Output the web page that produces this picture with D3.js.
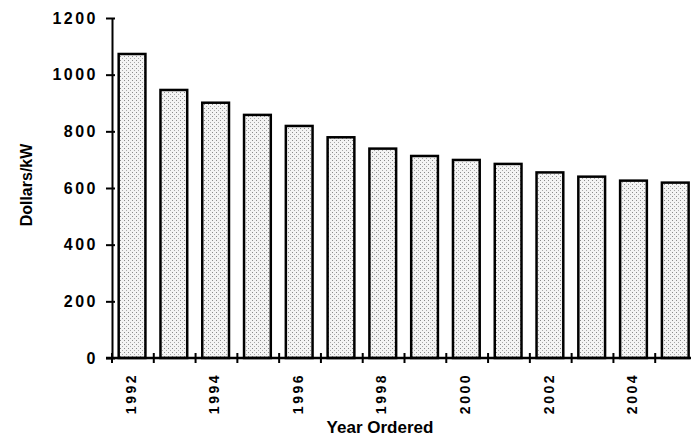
<!DOCTYPE html>
<html>
<head>
<meta charset="utf-8">
<script src="https://cdn.jsdelivr.net/npm/d3@7"></script>
<style>
    body { margin: 0; background: #fff; }
    svg { display: block; font-family: "Liberation Sans", Arial, sans-serif; }
</style>
</head>
<body>
<svg id="my-svg"></svg>
<script>
const years = [1992, 1993, 1994, 1995, 1996, 1997, 1998, 1999, 2000, 2001, 2002, 2003, 2004, 2005];
const costs = [1073, 946, 901, 858, 819, 779, 739, 713, 699, 685, 655, 640, 626, 619];
const yTicks = [0, 200, 400, 600, 800, 1000, 1200];
const xLabels = [1992, 1994, 1996, 1998, 2000, 2002, 2004];

const width = 691;
const height = 439;
const margin = { top: 18, left: 112, bottom: 81 };
const plotRight = 697;
const baseY = height - margin.bottom;

const svg = d3.select("#my-svg")
    .attr("width", width)
    .attr("height", height);

// stipple fill like the scanned bars
const defs = svg.append("defs");
const pat = defs.append("pattern")
    .attr("id", "stipple")
    .attr("patternUnits", "userSpaceOnUse")
    .attr("width", 4)
    .attr("height", 4);
pat.append("rect").attr("width", 4).attr("height", 4).attr("fill", "#f4f4f4");
pat.append("rect").attr("x", 0).attr("y", 0).attr("width", 1).attr("height", 1).attr("fill", "#8a8a8a");
pat.append("rect").attr("x", 2).attr("y", 2).attr("width", 1).attr("height", 1).attr("fill", "#a8a8a8");

const x = d3.scaleBand()
    .domain(years)
    .range([margin.left, plotRight])
    .padding(0);

const y = d3.scaleLinear()
    .domain([0, 1200])
    .range([baseY, margin.top]);

const bw = x.bandwidth();

svg.append("g")
    .selectAll("rect")
    .data(years)
    .enter().append("rect")
    .attr("x", (d) => x(d) + bw * 0.16)
    .attr("y", (d, i) => y(costs[i]))
    .attr("width", bw * 0.64)
    .attr("height", (d, i) => baseY - y(costs[i]))
    .attr("fill", "url(#stipple)")
    .attr("stroke", "#000")
    .attr("stroke-width", 2.5);

// y axis
const yAxis = svg.append("g")
    .attr("transform", `translate(${margin.left},0)`)
    .call(d3.axisLeft(y).tickValues(yTicks).tickSize(0).tickPadding(14).tickFormat(d3.format("d")));
yAxis.select(".domain")
    .attr("stroke", "#000")
    .attr("stroke-width", 2);
yAxis.selectAll(".tick line")
    .attr("x1", -6)
    .attr("x2", 3)
    .attr("stroke", "#000")
    .attr("stroke-width", 2);
yAxis.selectAll(".tick text")
    .attr("fill", "#000")
    .style("font-size", "16px")
    .style("font-weight", "bold")
    .style("letter-spacing", "2.5px");

// x axis, ticks at band edges
const xg = svg.append("g");
xg.append("line")
    .attr("x1", margin.left - 6)
    .attr("x2", width)
    .attr("y1", baseY)
    .attr("y2", baseY)
    .attr("stroke", "#000")
    .attr("stroke-width", 2.5);
xg.selectAll(".xtick")
    .data(years)
    .enter().append("line")
    .attr("class", "xtick")
    .attr("x1", (d) => x(d))
    .attr("x2", (d) => x(d))
    .attr("y1", baseY - 5)
    .attr("y2", baseY + 5)
    .attr("stroke", "#000")
    .attr("stroke-width", 2);

xg.selectAll(".xlabel")
    .data(xLabels)
    .enter().append("text")
    .attr("class", "xlabel")
    .attr("transform", (d) => `translate(${x(d) + bw * 0.45},${baseY + 15}) rotate(-90)`)
    .attr("text-anchor", "end")
    .attr("dy", "0.35em")
    .style("font-size", "14px")
    .style("font-weight", "bold")
    .style("letter-spacing", "2.5px")
    .text((d) => d);

svg.append("text")
    .attr("x", 380)
    .attr("y", 433)
    .attr("text-anchor", "middle")
    .style("font-size", "17px")
    .style("font-weight", "bold")
    .text("Year Ordered");

svg.append("text")
    .attr("transform", "translate(32,185) rotate(-90)")
    .attr("text-anchor", "middle")
    .style("font-size", "16px")
    .style("font-weight", "bold")
    .text("Dollars/kW");
</script>
</body>
</html>
